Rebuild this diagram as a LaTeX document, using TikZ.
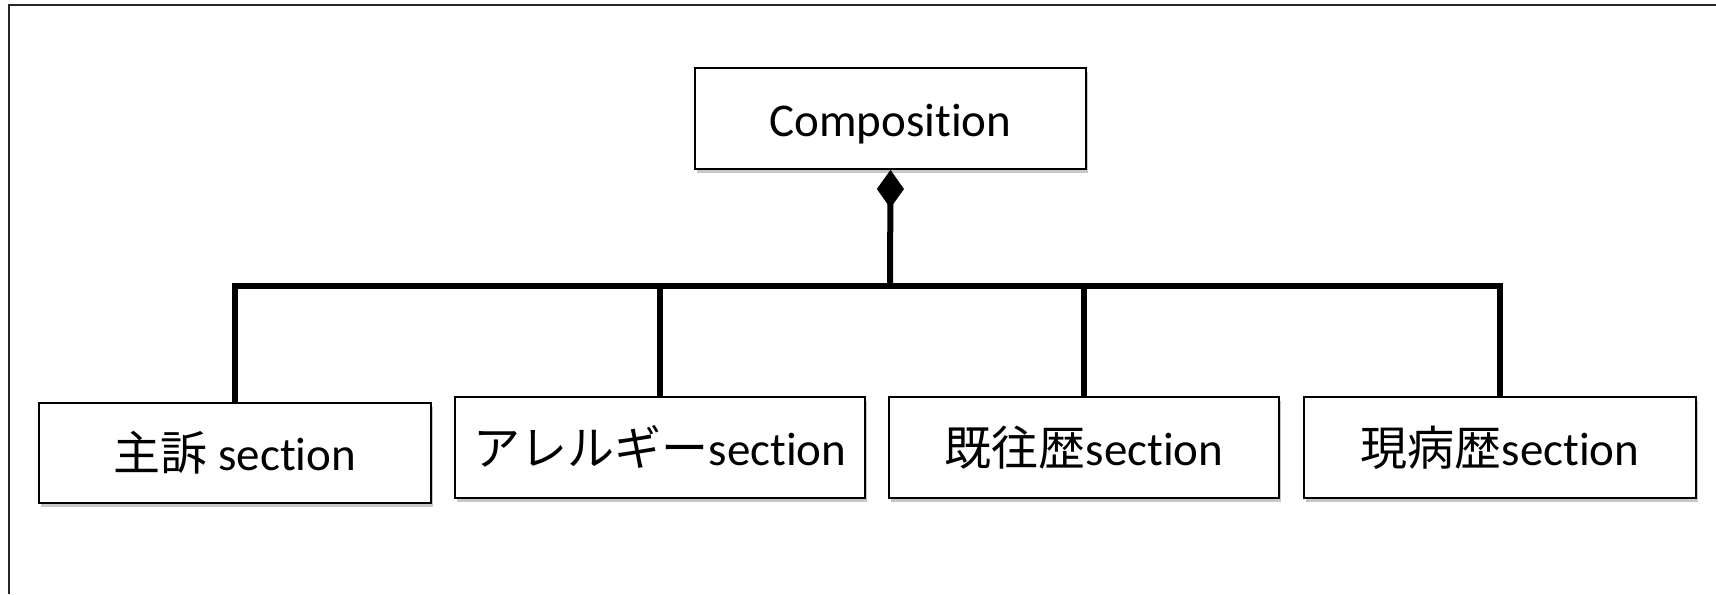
\documentclass[tikz,border=0pt]{standalone}
\usepackage{fontspec}
\setmainfont{Carlito}[Ligatures=NoCommon]
\newfontfamily\jp{Noto Sans CJK JP}
\usetikzlibrary{arrows.meta,shadows}
\tikzset{
  box/.style={draw=black, line width=1pt, fill=white, inner sep=0pt,
    minimum height=50pt, font=\fontsize{23.5pt}{28pt}\selectfont,
    text height=20.7pt, text depth=2.8pt,
    drop shadow={shadow xshift=1.2pt, shadow yshift=-2pt, fill=black, opacity=0.22}},
  conn/.style={line width=2.6pt, line cap=butt},
  frame/.style={line width=1.1pt, draw=black!85}
}
\begin{document}
\begin{tikzpicture}[x=0.5pt, y=-0.5pt]
\useasboundingbox (0,0) rectangle (1716,594);
\draw[frame] (9,594) -- (9,5) -- (1716,5);

\node[box, minimum width=195.5pt, minimum height=50.5pt] (comp) at (890.5,118.5) {Composition};
\node[box, minimum width=196pt] (s1) at (235,452.5) {{\jp 主訴} section};
\node[box, minimum width=205pt, minimum height=50.5pt] (s2) at (660,447.5) {{\jp アレルギー}section};
\node[box, minimum width=195pt, minimum height=50.5pt] (s3) at (1084,447.5) {{\jp 既往歴}section};
\node[box, minimum width=196pt, minimum height=50.5pt] (s4) at (1500,447.5) {{\jp 現病歴}section};

\coordinate (j) at (890,286);
\draw[conn, line width=3pt, -{Diamond[length=19pt, width=13.5pt, line width=0.1pt]}] (j) -- (comp.south);
\draw[conn] (s1.north) |- (j) -| (s4.north);
\draw[conn] (s2.north) -- (s2.north |- j);
\draw[conn] (s3.north) -- (s3.north |- j);
\end{tikzpicture}
\end{document}
